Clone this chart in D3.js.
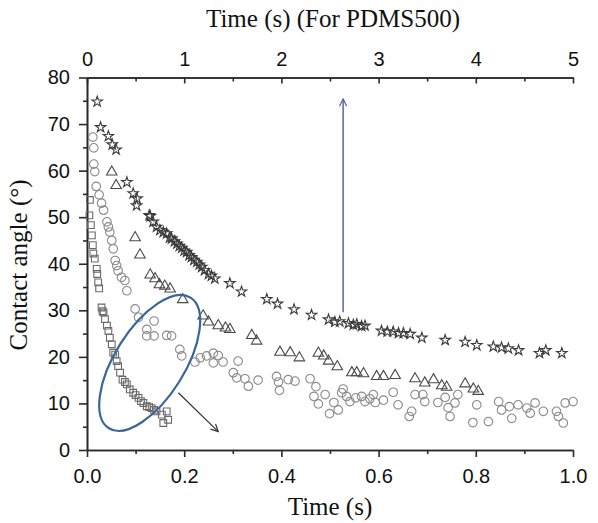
<!DOCTYPE html>
<html>
<head>
<meta charset="utf-8">
<script src="https://cdn.jsdelivr.net/npm/d3@7"></script>
<style>
  body { margin: 0; background: #fff; }
  .tick text { font-family: "Liberation Sans", Arial, sans-serif; font-size: 20px; fill: #111; }
  .title { font-family: "Liberation Serif", "Times New Roman", serif; font-size: 25px; fill: #111; }
</style>
</head>
<body>
<script>
// PDMS500 stars use the top axis (0-5 s), everything else the bottom one (0-1 s)
const starPoints = [[0.105,74.8],[0.14,69.3],[0.22,67.4],[0.26,65.6],[0.30,64.5],[0.41,57.5],[0.475,55.1],[0.515,54],[0.51,52.5],[0.64,50.4],[0.65,50.2],[0.68,49],[0.715,47.9],[0.75,47.2],[0.785,46.8],[0.82,46.5],[0.85,45.6],[0.87,45.4],[0.90,44.8],[0.925,44.3],[0.95,43.8],[0.975,43.4],[1.0,42.8],[1.025,42.5],[1.05,41.8],[1.075,41.4],[1.10,40.8],[1.13,40.4],[1.155,39.8],[1.18,39.3],[1.21,38.6],[1.25,37.8],[1.28,37.4],[1.315,36.8],[1.47,35.8],[1.59,34],[1.85,32.4],[1.96,31.4],[2.13,30.2],[2.31,29],[2.485,28],[2.55,27.5],[2.6,27.6],[2.69,27.2],[2.74,26.9],[2.775,27],[2.825,26.6],[2.86,26.7],[3.03,25.6],[3.09,25.4],[3.15,25.4],[3.205,25.1],[3.255,25.1],[3.325,24.9],[3.445,24.1],[3.685,23.6],[3.89,23.2],[4.01,22.5],[4.18,22.2],[4.265,22],[4.335,21.8],[4.44,21.4],[4.655,20.8],[4.72,21.4],[4.885,20.8]]

const trianglePoints = [[0.051,59.7],[0.060,56.8],[0.099,45.6],[0.109,41.9],[0.130,37.6],[0.140,36.8],[0.149,35.5],[0.160,35.2],[0.171,34.6],[0.197,32.3],[0.239,28.8],[0.250,27.5],[0.270,26.7],[0.285,26.2],[0.294,25.9],[0.339,24.6],[0.349,23.4],[0.397,21],[0.418,20.9],[0.437,19.8],[0.476,20.8],[0.487,20.2],[0.497,19.1],[0.515,17.9],[0.545,16.6],[0.555,16.6],[0.569,16.4],[0.596,15.8],[0.610,15.8],[0.634,16],[0.675,15.3],[0.695,14.4],[0.713,15.1],[0.730,13.8],[0.740,13.5],[0.778,14.2],[0.795,13.1],[0.805,12.6]]

const circlePoints = [[0.012,67.2],[0.014,64.9],[0.014,61.4],[0.016,59.8],[0.019,56.6],[0.025,54.8],[0.030,53],[0.034,51.5],[0.041,49],[0.044,47.9],[0.047,46.8],[0.051,45],[0.054,43.2],[0.058,40.7],[0.061,39.6],[0.064,38.5],[0.071,37.1],[0.078,36.4],[0.082,34.2],[0.099,30.3],[0.106,28.5],[0.123,25.9],[0.123,24.5],[0.138,27.7],[0.138,24.5],[0.164,24.6],[0.174,24.5],[0.191,21.6],[0.195,20.2],
  [0.222,18.9],[0.233,19.8],[0.246,20.2],[0.260,20.8],[0.270,20.3],[0.260,18.7],[0.280,18.9],[0.311,19.1],[0.301,16.6],[0.308,15.5],[0.325,15.3],[0.332,13.7],[0.352,15],[0.390,15.8],[0.394,14.6],[0.396,12.8],[0.414,15.1],[0.428,14.8],
  [0.459,15.3],[0.471,13.6],[0.467,11.5],[0.476,9.9],[0.490,11.9],[0.499,7.8],[0.508,10.2],[0.517,8.6],[0.524,12.3],[0.527,13.1],[0.534,11.5],[0.541,10.4],[0.553,11.2],[0.565,11.5],[0.572,10.4],[0.582,11.0],[0.589,11.9],[0.593,10.2],[0.610,10.7],
  [0.630,12.4],[0.640,9.7],[0.663,7.2],[0.668,8.3],[0.675,11.9],[0.691,11.9],[0.695,10.4],[0.722,10.2],[0.737,11.3],[0.743,9.1],[0.747,7.2],[0.757,10.1],[0.763,11.9],[0.794,5.9],[0.802,9.7],[0.826,6.1],[0.847,10.4],[0.853,8.6],[0.869,9.3],[0.874,6.8],[0.887,9.7],[0.905,9.0],[0.912,7.9],[0.922,10.1],[0.939,8.3],[0.966,8.3],[0.970,7.2],[0.980,5.8],[0.984,10.1],[1.0,10.4]]

const squarePoints = [[0.006,53.7],[0.005,50.4],[0.008,48.3],[0.010,46.1],[0.012,44],[0.013,42.2],[0.016,41.1],[0.020,38.9],[0.021,37.8],[0.023,36],[0.025,34.7],[0.030,30.6],[0.032,29.8],[0.034,29.5],[0.037,28.1],[0.041,26.7],[0.044,25.6],[0.047,24.1],[0.051,22.7],[0.054,20.9],[0.058,20.5],[0.061,19.1],[0.064,18],[0.068,16.6],[0.073,15.1],[0.078,14.6],[0.082,14.1],[0.088,13],[0.095,12.3],[0.100,11.8],[0.106,11.2],[0.111,10.5],[0.116,10.1],[0.123,9.4],[0.128,9.2],[0.133,9],[0.138,8.6],[0.143,8.3],[0.154,7.6],[0.164,8.3],[0.167,6.5],[0.157,5.8]]

const bottomTicks = [0, 0.2, 0.4, 0.6, 0.8, 1.0]
const topTicks = [0, 1, 2, 3, 4, 5]
const leftTicks = [0, 10, 20, 30, 40, 50, 60, 70, 80]

// annotations: ellipse centre (t, angle), blue arrow (top time, from/to angle), black arrow
const ellipseCentre = [0.129, 18.7]
const blueArrow = [2.635, 29.6, 75.4]
const blackArrow = [[0.188, 12.3], [0.270, 3.95]]

document.addEventListener("DOMContentLoaded", function() {

    const w = 598
    const h = 523

    const svg = d3.select("body")
    .append("svg")
    .attr("width", w)
    .attr("height", h)

    // scales
    const x = d3.scaleLinear().domain([0, 1]).range([87, 573])
    const xTop = d3.scaleLinear().domain([0, 5]).range([87, 573])
    const y = d3.scaleLinear().domain([0, 80]).range([450, 77.5])

    const axisColor = "#2a2a2a"

    // minor ticks first, major on top
    svg.append("g")
    .attr("transform", "translate(0,450)")
    .call(d3.axisBottom(x).tickValues(d3.range(0.1, 1, 0.2)).tickSize(4).tickSizeOuter(0).tickFormat(""))
    svg.append("g")
    .attr("transform", "translate(0,450)")
    .call(d3.axisBottom(x).tickValues(bottomTicks).tickSize(7).tickSizeOuter(0).tickPadding(12).tickFormat(d3.format(".1f")))

    svg.append("g")
    .attr("transform", "translate(0,77.5)")
    .call(d3.axisTop(xTop).tickValues([0.5, 1.5, 2.5, 3.5, 4.5]).tickSize(-4).tickSizeOuter(0).tickFormat(""))
    svg.append("g")
    .attr("transform", "translate(0,77.5)")
    .call(d3.axisTop(xTop).tickValues(topTicks).tickSize(-6).tickSizeOuter(0).tickPadding(12).tickFormat(d3.format("d")))

    svg.append("g")
    .attr("transform", "translate(87,0)")
    .call(d3.axisLeft(y).tickValues(d3.range(5, 80, 10)).tickSize(4).tickSizeOuter(0).tickFormat(""))
    svg.append("g")
    .attr("transform", "translate(87,0)")
    .call(d3.axisLeft(y).tickValues(leftTicks).tickSize(8).tickSizeOuter(0).tickPadding(9))

    svg.selectAll(".domain, .tick line")
    .attr("stroke", axisColor)
    .attr("stroke-width", 1.6)

    // axis titles
    svg.append("text")
    .attr("class", "title")
    .attr("x", 333)
    .attr("y", 27)
    .attr("text-anchor", "middle")
    .text("Time (s) (For PDMS500)")

    svg.append("text")
    .attr("class", "title")
    .attr("x", 330)
    .attr("y", 515)
    .attr("text-anchor", "middle")
    .text("Time (s)")

    svg.append("text")
    .attr("class", "title")
    .attr("transform", "translate(27,265) rotate(-90)")
    .attr("text-anchor", "middle")
    .text("Contact angle (°)")

    // markers
    const drawSeries = (data, xs, type, size, color) => {
        svg.append("g")
        .selectAll("path")
        .data(data)
        .enter()
        .append("path")
        .attr("transform", d => `translate(${xs(d[0])},${y(d[1])})`)
        .attr("d", d3.symbol().type(type).size(size))
        .attr("fill", "none")
        .attr("stroke", color)
        .attr("stroke-width", 1.1)
    }

    drawSeries(circlePoints, x, d3.symbolCircle, 58, "#8a8a8a")
    drawSeries(squarePoints, x, d3.symbolSquare, 45, "#6a6a6a")
    drawSeries(trianglePoints, x, d3.symbolTriangle, 48, "#4a4a4a")
    drawSeries(starPoints, xTop, d3.symbolStar, 34, "#3a3a3a")

    // arrow heads
    const defs = svg.append("defs")
    const addHead = (id, color) => {
        defs.append("marker")
        .attr("id", id)
        .attr("viewBox", "0 0 10 10")
        .attr("refX", 9)
        .attr("refY", 5)
        .attr("markerWidth", 9)
        .attr("markerHeight", 9)
        .attr("markerUnits", "userSpaceOnUse")
        .attr("orient", "auto")
        .append("path")
        .attr("d", "M1,1 L9,5 L1,9")
        .attr("fill", "none")
        .attr("stroke", color)
        .attr("stroke-width", 1.3)
    }
    addHead("headBlue", "#5b66a6")
    addHead("headBlack", "#333")

    svg.append("line")
    .attr("x1", xTop(blueArrow[0]))
    .attr("x2", xTop(blueArrow[0]))
    .attr("y1", y(blueArrow[1]))
    .attr("y2", y(blueArrow[2]))
    .attr("stroke", "#5b66a6")
    .attr("stroke-width", 1.5)
    .attr("marker-end", "url(#headBlue)")

    svg.append("line")
    .attr("x1", x(blackArrow[0][0]))
    .attr("y1", y(blackArrow[0][1]))
    .attr("x2", x(blackArrow[1][0]))
    .attr("y2", y(blackArrow[1][1]))
    .attr("stroke", "#333")
    .attr("stroke-width", 1.2)
    .attr("marker-end", "url(#headBlack)")

    // blue ellipse around the fast spreading region
    svg.append("ellipse")
    .attr("transform", `translate(${x(ellipseCentre[0])},${y(ellipseCentre[1])}) rotate(-58)`)
    .attr("rx", 77)
    .attr("ry", 35)
    .attr("fill", "none")
    .attr("stroke", "#3a6598")
    .attr("stroke-width", 2.2)
})
</script>
</body>
</html>
